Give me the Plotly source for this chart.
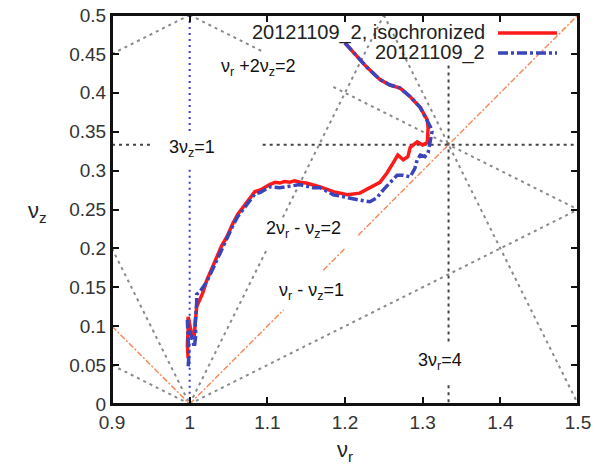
import plotly.graph_objects as go

# ---- data: measured tune curves ----
red_x = [1.200, 1.214, 1.228, 1.245, 1.258, 1.271, 1.284, 1.297, 1.306, 1.307, 1.307, 1.306, 1.300,
         1.293, 1.284, 1.281, 1.275, 1.268, 1.262, 1.254, 1.245, 1.232, 1.219, 1.203, 1.185, 1.168,
         1.159, 1.150, 1.142, 1.135, 1.129, 1.122, 1.116, 1.110, 1.103, 1.097, 1.091, 1.084, 1.078,
         1.069, 1.062, 1.056, 1.048, 1.041, 1.035, 1.028, 1.022, 1.017, 1.012, 1.009, 1.007, 1.006,
         1.003, 0.998, 0.998, 0.997, 0.998]
red_y = [0.464, 0.449, 0.433, 0.417, 0.410, 0.406, 0.395, 0.381, 0.365, 0.355, 0.346, 0.336, 0.333,
         0.337, 0.330, 0.318, 0.314, 0.320, 0.310, 0.297, 0.285, 0.278, 0.271, 0.269, 0.273, 0.279,
         0.282, 0.284, 0.285, 0.287, 0.285, 0.286, 0.284, 0.285, 0.282, 0.279, 0.275, 0.273, 0.265,
         0.253, 0.244, 0.233, 0.215, 0.203, 0.189, 0.172, 0.159, 0.143, 0.133, 0.125, 0.102, 0.089,
         0.088, 0.112, 0.095, 0.076, 0.059]

blue_x = [1.200, 1.214, 1.228, 1.245, 1.258, 1.271, 1.284, 1.297, 1.306, 1.310, 1.312, 1.310, 1.307,
          1.303, 1.297, 1.293, 1.290, 1.284, 1.275, 1.267, 1.258, 1.249, 1.241, 1.232, 1.219, 1.203,
          1.185, 1.168, 1.159, 1.150, 1.142, 1.129, 1.116, 1.103, 1.091, 1.084, 1.078, 1.069, 1.062,
          1.056, 1.048, 1.041, 1.035, 1.028, 1.022, 1.013, 1.009, 1.009, 1.008, 1.007, 1.008, 1.006,
          1.003, 0.999, 0.997, 0.998, 0.999, 0.998]
blue_y = [0.464, 0.449, 0.433, 0.417, 0.410, 0.406, 0.395, 0.381, 0.365, 0.356, 0.350, 0.339, 0.323,
          0.318, 0.320, 0.314, 0.303, 0.292, 0.294, 0.294, 0.285, 0.275, 0.265, 0.260, 0.262, 0.265,
          0.269, 0.278, 0.278, 0.280, 0.282, 0.280, 0.278, 0.279, 0.272, 0.270, 0.262, 0.250, 0.241,
          0.230, 0.213, 0.200, 0.186, 0.170, 0.157, 0.144, 0.141, 0.130, 0.117, 0.102, 0.089, 0.073,
          0.085, 0.095, 0.108, 0.082, 0.063, 0.046]

# ---- resonance lines (segments separated by None) ----
gray_x = [0.9, 1.0, None, 1.0, 1.094, None, 1.185, 1.5, None, 0.9, 1.0, None, 0.9, 1.0, None,
          1.0, 1.099, None, 1.120, 1.25, None, 1.25, 1.5, None, 1.0, 1.5]
gray_y = [0.45, 0.5, None, 0.5, 0.453, None, 0.4075, 0.25, None, 0.2, 0.0, None, 0.05, 0.0, None,
          0.0, 0.198, None, 0.240, 0.5, None, 0.5, 0.0, None, 0.0, 0.25]

black_x = [0.9, 0.953, None, 1.094, 1.5, None, 4/3, 4/3, None, 4/3, 4/3]
black_y = [1/3, 1/3, None, 1/3, 1/3, None, 0.435, 0.076, None, 0.024, 0.0]

bluev_x = [1.0, 1.0, None, 1.0, 1.0]
bluev_y = [0.5, 0.350, None, 0.301, 0.0]

orange_x = [0.9, 1.0, None, 1.0, 1.121, None, 1.172, 1.200, None, 1.217, 1.5]
orange_y = [0.1, 0.0, None, 0.0, 0.121, None, 0.172, 0.200, None, 0.217, 0.5]

# ---- labels ----
res_labels = ["ν<sub>r</sub> +2ν<sub>z</sub>=2", "3ν<sub>z</sub>=1", "2ν<sub>r</sub> - ν<sub>z</sub>=2",
              "ν<sub>r</sub> - ν<sub>z</sub>=1", "3ν<sub>r</sub>=4"]
res_lab_x = [1.088, 1.003, 1.147, 1.157, 1.322]
res_lab_y = [0.432, 0.329, 0.224, 0.145, 0.055]

series_names = ["20121109_2, isochronized", "20121109_2"]
x_ticks = [0.9, 1.0, 1.1, 1.2, 1.3, 1.4, 1.5]
y_ticks = [0, 0.05, 0.1, 0.15, 0.2, 0.25, 0.3, 0.35, 0.4, 0.45, 0.5]

RED = "#ff1a1a"
BLUE = "#3a44bb"
ORANGE = "#f58a5c"
FONT = "Liberation Sans"

fig = go.Figure()
fig.add_trace(go.Scatter(x=gray_x, y=gray_y, mode="lines",
                         line=dict(color="#8a8a8a", width=2, dash="3px,4px"), hoverinfo="skip"))
fig.add_trace(go.Scatter(x=black_x, y=black_y, mode="lines",
                         line=dict(color="#444444", width=2, dash="3px,4px"), hoverinfo="skip"))
fig.add_trace(go.Scatter(x=bluev_x, y=bluev_y, mode="lines",
                         line=dict(color="#3a3ad0", width=2, dash="2px,4px"), hoverinfo="skip"))
fig.add_trace(go.Scatter(x=orange_x, y=orange_y, mode="lines",
                         line=dict(color=ORANGE, width=1.5, dash="6px,2px,2px,2px"), hoverinfo="skip"))
fig.add_trace(go.Scatter(x=red_x, y=red_y, mode="lines", name=series_names[0],
                         line=dict(color=RED, width=3.5)))
fig.add_trace(go.Scatter(x=blue_x, y=blue_y, mode="lines", name=series_names[1],
                         line=dict(color=BLUE, width=3.5, dash="10px,3px,3px,3px")))

annotations = []
for t, x, y in zip(res_labels, res_lab_x, res_lab_y):
    annotations.append(dict(x=x, y=y, xref="x", yref="y", text=t, showarrow=False,
                            font=dict(family=FONT, size=18, color="#111")))

# legend (gnuplot style: text then sample)
leg_y = [0.4769, 0.4512]
for name, ly in zip(series_names, leg_y):
    annotations.append(dict(x=1.383, y=ly, xref="x", yref="y", text=name, showarrow=False,
                            xanchor="right", font=dict(family=FONT, size=20, color="#222")))
shapes = [
    dict(type="line", xref="x", yref="y", x0=1.397, x1=1.473, y0=leg_y[0], y1=leg_y[0],
         line=dict(color=RED, width=3.5)),
    dict(type="line", xref="x", yref="y", x0=1.397, x1=1.473, y0=leg_y[1], y1=leg_y[1],
         line=dict(color=BLUE, width=3.5, dash="10px,3px,3px,3px")),
    dict(type="rect", xref="paper", yref="paper", x0=0, x1=1, y0=0, y1=1,
         line=dict(color="#111", width=2), layer="above"),
]

annotations.append(dict(x=-0.159, y=0.494, xref="paper", yref="paper", text="ν<sub>z</sub>",
                        xanchor="center", yanchor="middle",
                        showarrow=False, font=dict(family=FONT, size=22, color="#222")))
annotations.append(dict(x=0.5, y=-0.122, xref="paper", yref="paper", text="ν<sub>r</sub>",
                        xanchor="center", yanchor="middle",
                        showarrow=False, font=dict(family=FONT, size=22, color="#222")))

axis_common = dict(showgrid=False, zeroline=False, showline=True, linecolor="#111", linewidth=2,
                   mirror="ticks", ticks="inside", ticklen=7, tickwidth=1.5, tickcolor="#111",
                   tickfont=dict(family=FONT, size=19, color="#333"), automargin=False,
                   ticklabeloverflow="allow")
fig.update_layout(
    width=604, height=466,
    margin=dict(l=104, r=34, t=7, b=70, autoexpand=False),
    paper_bgcolor="white", plot_bgcolor="white",
    showlegend=False,
    xaxis=dict(range=[0.9, 1.5], tickvals=x_ticks, ticktext=[f"{v:g}" for v in x_ticks], **axis_common),
    yaxis=dict(range=[0, 0.5], tickvals=y_ticks, ticktext=[f"{v:g}" for v in y_ticks], **axis_common),
    annotations=annotations,
    shapes=shapes,
)
fig.write_html("out.html")
